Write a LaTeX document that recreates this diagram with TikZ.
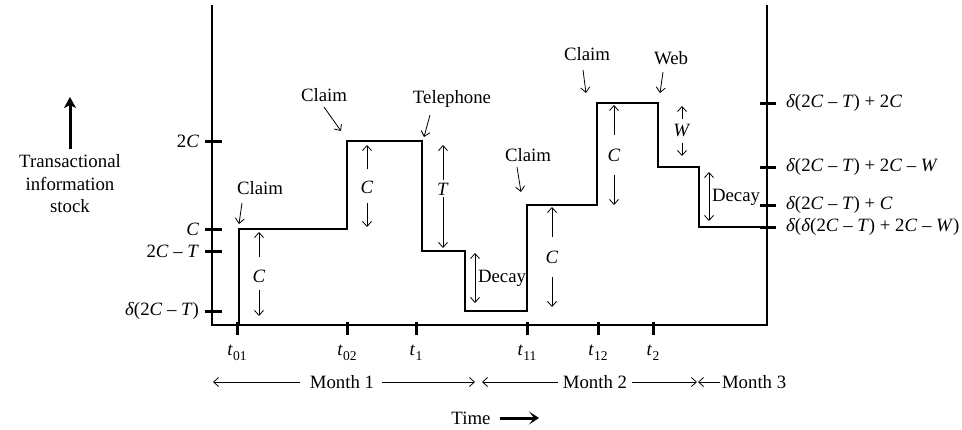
\documentclass[tikz,border=0pt]{standalone}
\usepackage{fontspec}
\setmainfont{Liberation Serif}
\usetikzlibrary{arrows.meta}
\newcommand{\tsb}[1]{\textit{t}\kern0.2pt\raisebox{-0.55ex}{\fontsize{13.5}{13.5}\selectfont #1}}
\newcommand{\dl}{\textit{δ}}
\begin{document}
\begin{tikzpicture}[x=1pt,y=-1pt,
  font=\fontsize{18.8}{22.5}\selectfont,
  every node/.style={inner sep=0pt, outer sep=0pt},
  axisline/.style={line width=2.8pt, line join=miter},
  stair/.style={line width=2.4pt, line join=miter},
  tickmark/.style={line width=3pt},
  ann/.style={line width=0.8pt, -{Straight Barb[length=5pt,width=9pt]}},
  dbl/.style={line width=0.8pt, {Straight Barb[length=5pt,width=9pt]}-{Straight Barb[length=5pt,width=9pt]}},
  bigarrow/.style={line width=3pt, -{Stealth[length=11pt,width=12pt,inset=3pt]}},
  timearrow/.style={line width=3pt, -{Stealth[length=10pt,width=13pt,inset=5pt]}}
]
\useasboundingbox (0,0) rectangle (962,429);

% axes
\coordinate (ltop) at (212,5);
\coordinate (lbot) at (212,325);
\coordinate (rbot) at (767,325);
\coordinate (rtop) at (767,5);
\draw[axisline] (ltop) -- (lbot) -- (rbot) -- (rtop);

% left ticks and labels
\foreach \y in {141,229,251,311}{
  \draw[tickmark] (205,\y) -- (222,\y);
}
\node[anchor=east] (l2c) at (199,141) {2\textit{C}};
\node[anchor=east] (lc) at (199,229) {\textit{C}};
\node[anchor=east] (l2ct) at (199,251) {2\textit{C} – \textit{T}};
\node[anchor=east] (ld) at (199,311) {\dl(2\textit{C} – \textit{T})};

% right ticks and labels
\foreach \y in {103,167,205,227}{
  \draw[tickmark] (760,\y) -- (776,\y);
}
\node[anchor=west] (r1) at (786,103) {\dl(2\textit{C} – \textit{T}) + 2\textit{C}};
\node[anchor=west] (r2) at (786,167) {\dl(2\textit{C} – \textit{T}) + 2\textit{C} – \textit{W}};
\node[anchor=west] (r3) at (786,205) {\dl(2\textit{C} – \textit{T}) + \textit{C}};
\node[anchor=west] (r4) at (786,227) {\dl(\dl(2\textit{C} – \textit{T}) + 2\textit{C} – \textit{W})};

% step function
\draw[stair] (239,325) -- (239,229) -- (347,229) -- (347,141) -- (422,141)
  -- (422,251) -- (465,251) -- (465,311) -- (527,311) -- (527,205)
  -- (597,205) -- (597,103) -- (658,103) -- (658,167) -- (699,167)
  -- (699,227) -- (767,227);

% bottom ticks and labels
\foreach \x in {237,347,416,527,598,653}{
  \draw[tickmark] (\x,322) -- (\x,335);
}
\node (t01) at (237,353) {\tsb{01}};
\node (t02) at (347,353) {\tsb{02}};
\node (t1) at (416,353) {\tsb{1}};
\node (t11) at (527,353) {\tsb{11}};
\node (t12) at (598,353) {\tsb{12}};
\node (t2) at (653,353) {\tsb{2}};

% months
\node (m1) at (342,382) {Month 1};
\node (m2) at (595,382) {Month 2};
\node[anchor=west] (m3) at (722,382) {Month 3};
\coordinate (m1l) at (213,382);
\coordinate (m1r) at (475,382);
\coordinate (m2l) at (482,382);
\coordinate (m2r) at (697,382);
\coordinate (m3l) at (698,382);
\draw[ann] ([xshift=-10pt]m1.west) -- (m1l);
\draw[ann] ([xshift=8pt]m1.east) -- (m1r);
\draw[ann] ([xshift=-5pt]m2.west) -- (m2l);
\draw[ann] ([xshift=5pt]m2.east) -- (m2r);
\draw[ann] ([xshift=-2pt]m3.west) -- (m3l);

% time
\node (time) at (471,418) {Time};
\coordinate (timeend) at (539,418);
\draw[timearrow] ([xshift=9pt]time.east) -- (timeend);

% y-axis caption
\node[align=center] (stock) at (70,184) {Transactional\\information\\stock};
\coordinate (stocktip) at (70,97);
\draw[bigarrow] ([yshift=6pt]stock.north) -- (stocktip);

% annotations: claims and events
\node (cl1) at (260,188) {Claim};
\coordinate (cl1a) at (242,203); \coordinate (cl1b) at (239,224);
\draw[ann] (cl1a) -- (cl1b);

\node (cl2) at (324,95) {Claim};
\coordinate (cl2a) at (324,107); \coordinate (cl2b) at (341,131);
\draw[ann] (cl2a) -- (cl2b);

\node (tel) at (452,99) {Telephone};
\coordinate (tela) at (430,115); \coordinate (telb) at (424,137);
\draw[ann] (tela) -- (telb);

\node (cl3) at (528,155) {Claim};
\coordinate (cl3a) at (517,167); \coordinate (cl3b) at (521,192);
\draw[ann] (cl3a) -- (cl3b);

\node (cl4) at (587,54) {Claim};
\coordinate (cl4a) at (583,70); \coordinate (cl4b) at (586,93);
\draw[ann] (cl4a) -- (cl4b);

\node (web) at (671,58) {Web};
\coordinate (weba) at (663,72); \coordinate (webb) at (660,93);
\draw[ann] (weba) -- (webb);

% magnitude arrows
\node (c1) at (259,276) {\textit{C}};
\coordinate (c1u) at (259,257); \coordinate (c1ut) at (259,232);
\coordinate (c1d) at (259,290); \coordinate (c1dt) at (259,316);
\draw[ann] (c1u) -- (c1ut); \draw[ann] (c1d) -- (c1dt);

\node (c2) at (367,187) {\textit{C}};
\coordinate (c2u) at (367,169); \coordinate (c2ut) at (367,145);
\coordinate (c2d) at (367,203); \coordinate (c2dt) at (367,227);
\draw[ann] (c2u) -- (c2ut); \draw[ann] (c2d) -- (c2dt);

\node (tt) at (443,189) {\textit{T}};
\coordinate (ttu) at (443,180); \coordinate (ttut) at (443,145);
\coordinate (ttd) at (443,197); \coordinate (ttdt) at (443,248);
\draw[ann] (ttu) -- (ttut); \draw[ann] (ttd) -- (ttdt);

\node (c3) at (552,257) {\textit{C}};
\coordinate (c3u) at (552,237); \coordinate (c3ut) at (552,207);
\coordinate (c3d) at (552,277); \coordinate (c3dt) at (552,307);
\draw[ann] (c3u) -- (c3ut); \draw[ann] (c3d) -- (c3dt);

\node (c4) at (614,155) {\textit{C}};
\coordinate (c4u) at (614,135); \coordinate (c4ut) at (614,105);
\coordinate (c4d) at (614,175); \coordinate (c4dt) at (614,205);
\draw[ann] (c4u) -- (c4ut); \draw[ann] (c4d) -- (c4dt);

\node (ww) at (682,130) {\textit{W}};
\coordinate (wwu) at (682,119); \coordinate (wwut) at (682,106);
\coordinate (wwd) at (682,143); \coordinate (wwdt) at (682,156);
\draw[ann] (wwu) -- (wwut); \draw[ann] (wwd) -- (wwdt);

% decays
\node[anchor=west] (dec1) at (478,278) {Decay};
\coordinate (d1a) at (475,253); \coordinate (d1b) at (475,303);
\draw[dbl] (d1a) -- (d1b);

\node[anchor=west] (dec2) at (712,197) {Decay};
\coordinate (d2a) at (709,172); \coordinate (d2b) at (709,221);
\draw[dbl] (d2a) -- (d2b);
\end{tikzpicture}
\end{document}
